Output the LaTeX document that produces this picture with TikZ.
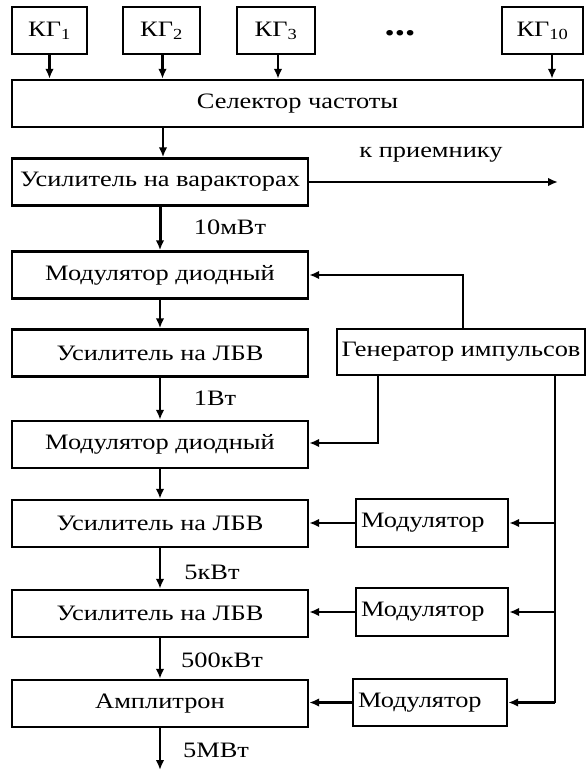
\documentclass[tikz,border=0pt]{standalone}
\usepackage{fontspec}
\setmainfont{Liberation Serif}[FakeStretch=1.2]
\usetikzlibrary{arrows.meta,calc}
\begin{document}
\begin{tikzpicture}[x=1pt,y=-1pt,
  blk/.style={draw,line width=2.4pt,minimum height=47pt,inner sep=0pt,font=\fontsize{22}{25}\selectfont},
  lbl/.style={inner sep=0pt,font=\fontsize{22}{25}\selectfont},
  conn/.style={line width=2.2pt},
  arr/.style={line width=2.2pt,-{Latex[length=10pt,width=8.5pt]}},
  thick arr/.style={line width=3pt,-{Latex[length=10pt,width=8.5pt]}}]
\useasboundingbox (0,0) rectangle (586,771);
% top generators
\node[blk,minimum width=75pt] (kg1) at (49.5,30.5) {КГ\textsubscript{1}};
\node[blk,minimum width=77pt] (kg2) at (161.5,30.5) {КГ\textsubscript{2}};
\node[blk,minimum width=78pt] (kg3) at (276,30.5) {КГ\textsubscript{3}};
\node[lbl,font=\fontsize{34}{34}\bfseries] (dots) at (400,33) {...};
\node[blk,minimum width=81pt] (kg10) at (542.5,30.5) {КГ\textsubscript{10}};
\node[blk,minimum width=571pt] (sel) at (297.5,103.5) {Селектор частоты};
% main chain
\node[blk,minimum width=296pt] (var) at (160,182) {Усилитель на варакторах};
\node[blk,minimum width=296pt] (md1) at (160,275) {Модулятор диодный};
\node[blk,minimum width=296pt] (lbv1) at (160,353) {Усилитель на ЛБВ};
\node[blk,minimum width=296pt] (md2) at (160,444.5) {Модулятор диодный};
\node[blk,minimum width=296pt] (lbv2) at (160,523.5) {Усилитель на ЛБВ};
\node[blk,minimum width=296pt] (lbv3) at (160,613.5) {Усилитель на ЛБВ};
\node[blk,minimum width=296pt] (amp) at (160,703.5) {Амплитрон};
\coordinate (out) at (160,770);
% right side
\node[blk,minimum width=248pt,minimum height=46pt] (gen) at (461,352) {Генератор импульсов};
\node[blk,minimum width=152pt,minimum height=48pt,text width=142pt,align=left] (m1) at (432,523) {Модулятор};
\node[blk,minimum width=152pt,minimum height=48pt,text width=142pt,align=left] (m2) at (432,612) {Модулятор};
\node[blk,minimum width=154pt,minimum height=47pt,text width=144pt,align=left] (m3) at (430,702.5) {Модулятор};
\coordinate (rx) at (431,155);
\coordinate (rcv) at (558,182);
% labels
\node[lbl] (l1) at (230,227) {10мВт};
\node[lbl] (l2) at (215,398) {1Вт};
\node[lbl] (l3) at (212,572) {5кВт};
\node[lbl] (l4) at (222,660) {500кВт};
\node[lbl] (l5) at (216,750) {5МВт};
\node[lbl] (lr) at (rx) {к приемнику};
% connectors top
\draw[arr] (kg1.south) -- (kg1.south |- sel.north);
\draw[arr] ([xshift=1pt]kg2.south) -- ([xshift=1pt]kg2.south |- sel.north);
\draw[arr] ([xshift=2pt]kg3.south) -- ([xshift=2pt]kg3.south |- sel.north);
\draw[arr] ([xshift=9.5pt]kg10.south) -- ([xshift=9.5pt]kg10.south |- sel.north);
\draw[arr] ([xshift=3pt]sel.south -| var.north) -- ([xshift=3pt]var.north);
\draw[arr] (var.east) -- (var.east -| rcv);
% chain
\draw[thick arr] (var.south) -- (md1.north);
\draw[arr] (md1.south) -- (lbv1.north);
\draw[arr] (lbv1.south) -- (md2.north);
\draw[arr] (md2.south) -- (lbv2.north);
\draw[arr] (lbv2.south) -- (lbv3.north);
\draw[arr] (lbv3.south) -- (amp.north);
\draw[arr] (amp.south) -- (out);
% generator links
\draw[arr] ([xshift=2pt]gen.north) |- (md1.east);
\draw[arr] ([xshift=-83pt]gen.south) |- ([yshift=1.5pt]md2.east);
\draw[conn] ([xshift=94pt]gen.south) -- ([xshift=94pt]gen.south |- m3.east);
\draw[arr] ([xshift=94pt]gen.south |- m1.east) -- (m1.east);
\draw[arr] ([xshift=94pt]gen.south |- m2.east) -- (m2.east);
\draw[arr] ([xshift=94pt]gen.south |- m3.east) -- (m3.east);
\draw[arr] (m1.west) -- (m1.west -| lbv2.east);
\draw[arr] (m2.west) -- (m2.west -| lbv3.east);
\draw[arr] (m3.west) -- (m3.west -| amp.east);
\end{tikzpicture}
\end{document}
